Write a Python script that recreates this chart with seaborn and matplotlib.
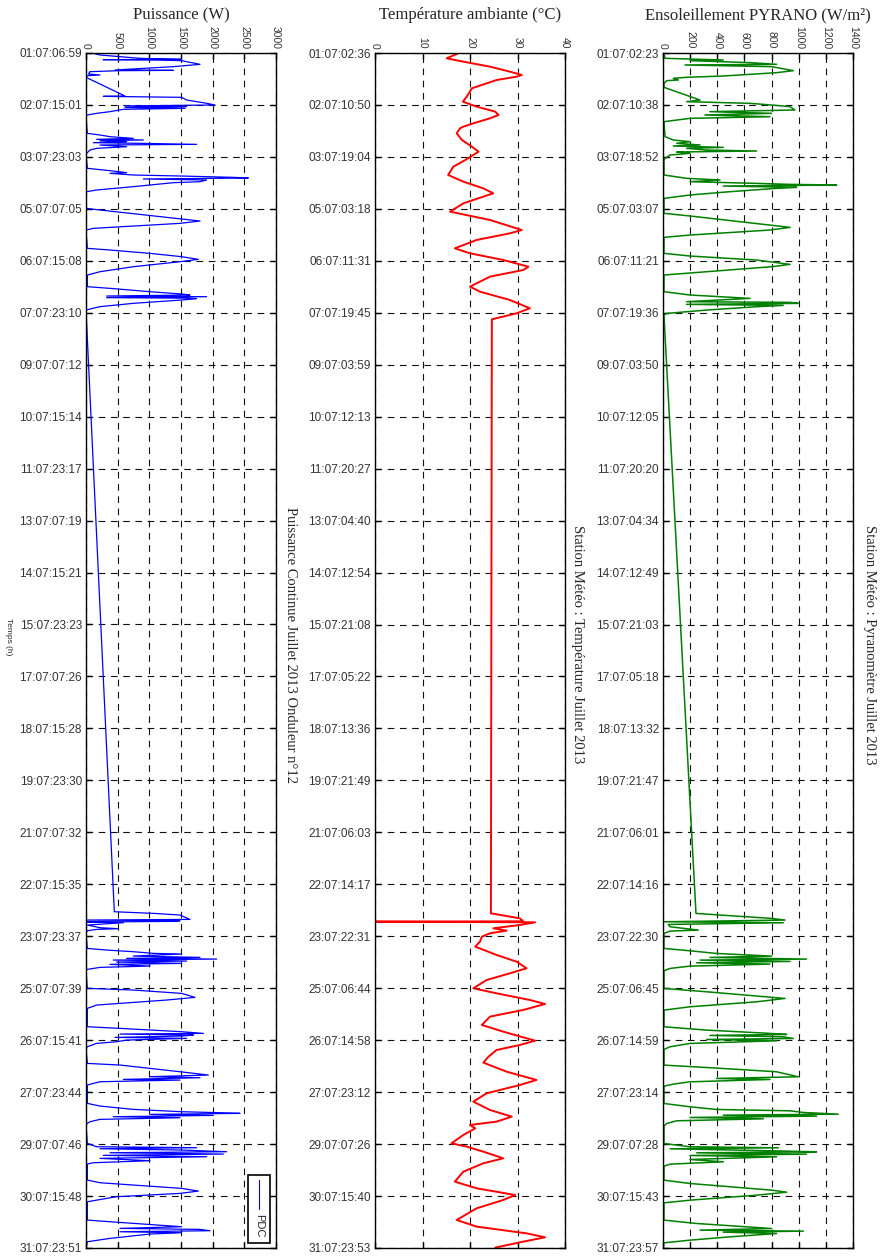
import numpy as np
import matplotlib
matplotlib.use("Agg")
import matplotlib.pyplot as plt
import matplotlib.patches as mpatches
import seaborn as sns

# Tick labels (jour:mois:heure:minute), one list per panel
pdc_ticks = ["01:07:06:59", "02:07:15:01", "03:07:23:03", "05:07:07:05", "06:07:15:08", "07:07:23:10",
             "09:07:07:12", "10:07:15:14", "11:07:23:17", "13:07:07:19", "14:07:15:21", "15:07:23:23",
             "17:07:07:26", "18:07:15:28", "19:07:23:30", "21:07:07:32", "22:07:15:35", "23:07:23:37",
             "25:07:07:39", "26:07:15:41", "27:07:23:44", "29:07:07:46", "30:07:15:48", "31:07:23:51"]
temp_ticks = ["01:07:02:36", "02:07:10:50", "03:07:19:04", "05:07:03:18", "06:07:11:31", "07:07:19:45",
              "09:07:03:59", "10:07:12:13", "11:07:20:27", "13:07:04:40", "14:07:12:54", "15:07:21:08",
              "17:07:05:22", "18:07:13:36", "19:07:21:49", "21:07:06:03", "22:07:14:17", "23:07:22:31",
              "25:07:06:44", "26:07:14:58", "27:07:23:12", "29:07:07:26", "30:07:15:40", "31:07:23:53"]
pyr_ticks = ["01:07:02:23", "02:07:10:38", "03:07:18:52", "05:07:03:07", "06:07:11:21", "07:07:19:36",
             "09:07:03:50", "10:07:12:05", "11:07:20:20", "13:07:04:34", "14:07:12:49", "15:07:21:03",
             "17:07:05:18", "18:07:13:32", "19:07:21:47", "21:07:06:01", "22:07:14:16", "23:07:22:30",
             "25:07:06:45", "26:07:14:59", "27:07:23:14", "29:07:07:28", "30:07:15:43", "31:07:23:57"]

# Puissance continue (day of July as decimal, W)
pdc_points = [
    (1.291, 90), (1.342, 220), (1.428, 850), (1.454, 1510), (1.462, 270), (1.471, 1100), (1.488, 1510),
    (1.582, 1800), (1.642, 1380), (1.728, 460), (1.737, 1380), (1.745, 520), (1.771, 60), (1.831, 40),
    (1.856, 220), (1.873, 30), (1.899, 0), (1.916, 0),
    (2.396, 616), (2.405, 273), (2.430, 1510), (2.499, 1590), (2.584, 1905), (2.627, 2037), (2.650, 616),
    (2.670, 1590), (2.690, 616), (2.713, 1563), (2.738, 590), (2.798, 379), (2.841, 168), (2.884, 21), (2.910, 0),
    (3.355, 21), (3.398, 221), (3.441, 379), (3.484, 747), (3.509, 168), (3.526, 905), (3.544, 221),
    (3.569, 642), (3.595, 116), (3.612, 852), (3.638, 1747), (3.655, 221), (3.698, 642), (3.741, 168),
    (3.784, 63), (3.852, 21), (3.886, 0),
    (4.254, 21), (4.314, 379), (4.366, 642), (4.383, 379), (4.426, 747), (4.451, 1484), (4.486, 2326),
    (4.503, 2563), (4.528, 905), (4.554, 1905), (4.597, 1800), (4.623, 1379), (4.725, 747), (4.811, 168),
    (4.854, 10), (4.880, 0),
    (5.282, 0), (5.325, 221), (5.608, 1800), (5.668, 1484), (5.796, 116), (5.839, 0),
    (6.310, 21), (6.353, 379), (6.439, 1010), (6.524, 1510), (6.593, 1774), (6.653, 1484), (6.782, 747),
    (6.910, 221), (6.996, 21),
    (7.295, 21), (7.338, 379), (7.424, 1010), (7.483, 1510), (7.509, 1642), (7.535, 326), (7.552, 1905),
    (7.577, 326), (7.590, 1600), (7.603, 1747), (7.637, 1510), (7.723, 747), (7.808, 221), (7.894, 0),
    (23.354, 447), (23.396, 1063), (23.439, 1484), (23.551, 1642), (23.568, 10), (23.585, 1484),
    (23.602, 1400), (23.619, 21), (23.636, 589), (23.696, 21), (23.765, 221), (23.790, 510), (23.808, 168),
    (23.842, 21), (23.910, 0),
    (24.296, 21), (24.339, 326), (24.381, 747), (24.424, 1063), (24.441, 1510), (24.493, 747), (24.527, 1800),
    (24.553, 642), (24.570, 2063), (24.596, 431), (24.621, 1589), (24.647, 484), (24.681, 1510),
    (24.707, 379), (24.750, 1010), (24.784, 221), (24.835, 21), (24.870, 0),
    (25.323, 21), (25.366, 747), (25.452, 1510), (25.555, 1721), (25.623, 1274), (25.752, 168), (25.837, 21),
    (26.308, 21), (26.351, 537), (26.437, 1510), (26.480, 1853), (26.497, 537), (26.523, 1695), (26.548, 1510),
    (26.583, 458), (26.608, 1589), (26.651, 642), (26.694, 484), (26.737, 168), (26.822, 21), (26.865, 0),
    (27.251, 21), (27.293, 537), (27.465, 1484), (27.550, 1932), (27.593, 1010), (27.619, 1800),
    (27.662, 589), (27.679, 1484), (27.722, 221), (27.764, 116), (27.807, 21),
    (28.278, 21), (28.347, 221), (28.432, 747), (28.492, 1510), (28.518, 2116), (28.535, 2432), (28.561, 1010),
    (28.587, 2010), (28.621, 431), (28.647, 1484), (28.689, 221), (28.749, 63), (28.792, 21), (28.835, 0),
    (29.306, 21), (29.392, 168), (29.417, 1747), (29.443, 221), (29.477, 1510), (29.520, 2221), (29.546, 379),
    (29.580, 2169), (29.614, 273), (29.649, 1905), (29.691, 221), (29.751, 1010), (29.803, 116), (29.837, 21),
    (30.248, 21), (30.317, 221), (30.462, 1510), (30.531, 1774), (30.591, 1484), (30.676, 484), (30.805, 21),
    (31.276, 21), (31.319, 379), (31.447, 1510), (31.490, 537), (31.516, 1800), (31.550, 1958), (31.576, 537),
    (31.601, 1510), (31.635, 1010), (31.747, 379), (31.833, 21), (31.987, 0),
]

# Temperature ambiante (day, degC)
temp_points = [
    (1.117, 17.5), (1.246, 15.1), (1.332, 18.6), (1.461, 24.2), (1.590, 28.4), (1.677, 30.9), (1.720, 29.8),
    (1.806, 25.6), (2.021, 20.4), (2.237, 19.3), (2.366, 18.5), (2.495, 21.4), (2.624, 25.3), (2.710, 26.0),
    (2.797, 24.2), (2.926, 20.7), (3.012, 18.6), (3.055, 17.9), (3.184, 17.2), (3.357, 18.3), (3.529, 20.4),
    (3.658, 21.8), (3.744, 20.7), (3.874, 19.0), (4.046, 16.5), (4.261, 15.4), (4.434, 18.6), (4.606, 22.8),
    (4.735, 24.9), (4.821, 22.8), (4.994, 18.6), (5.209, 15.8), (5.424, 24.2), (5.683, 30.9), (5.769, 28.4),
    (5.941, 21.4), (6.157, 16.8), (6.286, 20.0), (6.458, 27.0), (6.631, 32.3), (6.717, 31.2), (6.889, 24.2),
    (7.147, 20.0), (7.277, 22.1), (7.492, 28.4), (7.707, 32.6), (7.837, 29.8), (7.992, 24.6),
    (23.345, 24.4), (23.474, 30.5), (23.551, 31.2), (23.560, 0.0), (23.577, 33.7), (23.646, 30.5),
    (23.732, 24.9), (23.793, 27.7), (23.861, 24.2), (23.948, 22.5), (24.077, 22.1), (24.206, 21.1),
    (24.421, 25.6), (24.594, 29.8), (24.766, 31.9), (24.895, 28.4), (25.068, 23.5), (25.283, 20.7),
    (25.412, 25.6), (25.585, 32.6), (25.688, 35.8), (25.843, 31.2), (26.015, 24.2), (26.231, 22.5),
    (26.403, 27.0), (26.575, 31.9), (26.636, 33.7), (26.748, 30.5), (26.877, 25.6), (27.049, 23.9),
    (27.204, 22.8), (27.437, 27.7), (27.652, 34.0), (27.782, 30.5), (27.997, 23.5), (28.212, 20.7),
    (28.428, 24.2), (28.600, 28.8), (28.729, 25.6), (28.815, 20.0), (28.901, 21.1), (29.074, 18.6),
    (29.289, 16.1), (29.375, 19.3), (29.505, 22.8), (29.677, 27.0), (29.806, 22.8), (30.022, 18.6),
    (30.280, 16.8), (30.452, 21.4), (30.625, 29.5), (30.754, 27.0), (30.969, 21.4), (31.271, 17.2),
    (31.443, 21.4), (31.616, 31.9), (31.719, 35.8), (31.831, 31.2), (31.986, 25.3),
]

# Ensoleillement pyranometre (day, W/m2)
pyr_points = [
    (1.108, 7), (1.237, 15), (1.280, 444), (1.297, 199), (1.349, 641), (1.392, 837), (1.409, 162),
    (1.452, 800), (1.556, 960), (1.608, 837), (1.694, 444), (1.728, 174), (1.754, 76), (1.797, 113),
    (1.815, 27), (1.884, 7), (1.987, 7),
    (2.315, 273), (2.358, 174), (2.401, 641), (2.444, 800), (2.487, 936), (2.573, 972), (2.616, 346),
    (2.659, 800), (2.702, 309), (2.746, 788), (2.789, 199), (2.832, 101), (2.875, 7),
    (3.263, 15), (3.349, 76), (3.392, 199), (3.435, 101), (3.478, 273), (3.504, 76), (3.539, 444),
    (3.565, 174), (3.608, 322), (3.634, 690), (3.659, 101), (3.694, 199), (3.737, 52), (3.823, 15), (3.866, 7),
    (4.254, 7), (4.340, 174), (4.383, 420), (4.427, 199), (4.470, 690), (4.496, 936), (4.513, 1280),
    (4.539, 444), (4.573, 985), (4.599, 837), (4.685, 494), (4.771, 199), (4.858, 7),
    (5.245, 7), (5.314, 199), (5.608, 936), (5.677, 788), (5.806, 199), (5.866, 7),
    (6.280, 7), (6.349, 199), (6.453, 690), (6.565, 936), (6.625, 800), (6.754, 322), (6.840, 7),
    (7.271, 7), (7.357, 199), (7.444, 641), (7.530, 174), (7.547, 936), (7.573, 997), (7.599, 174),
    (7.625, 886), (7.659, 690), (7.746, 322), (7.832, 27), (7.875, 7),
    (23.347, 243), (23.476, 800), (23.519, 899), (23.563, 2), (23.588, 886), (23.632, 39), (23.692, 52),
    (23.778, 260), (23.804, 52), (23.864, 7),
    (24.252, 7), (24.313, 199), (24.382, 395), (24.451, 800), (24.485, 346), (24.528, 1058), (24.554, 273),
    (24.588, 936), (24.623, 248), (24.657, 788), (24.709, 199), (24.769, 52), (24.830, 7),
    (25.287, 7), (25.373, 322), (25.545, 899), (25.632, 690), (25.761, 199), (25.847, 7),
    (26.278, 7), (26.364, 322), (26.451, 800), (26.476, 911), (26.502, 346), (26.537, 886), (26.580, 960),
    (26.606, 322), (26.640, 837), (26.709, 199), (26.795, 52), (26.864, 7),
    (27.269, 7), (27.356, 444), (27.442, 837), (27.571, 997), (27.614, 395), (27.640, 788), (27.701, 199),
    (27.761, 76), (27.813, 7),
    (28.261, 7), (28.347, 199), (28.416, 395), (28.451, 936), (28.494, 1034), (28.537, 1292), (28.563, 444),
    (28.588, 1132), (28.623, 199), (28.657, 739), (28.709, 101), (28.778, 27), (28.847, 7),
    (29.295, 7), (29.381, 199), (29.407, 850), (29.433, 52), (29.485, 800), (29.511, 1132), (29.537, 248),
    (29.571, 1058), (29.606, 199), (29.640, 837), (29.709, 199), (29.769, 444), (29.830, 52), (29.881, 7),
    (30.244, 7), (30.330, 199), (30.502, 800), (30.554, 911), (30.632, 690), (30.761, 199), (30.830, 7),
    (31.278, 7), (31.364, 248), (31.494, 800), (31.537, 273), (31.562, 1034), (31.588, 444), (31.623, 837),
    (31.709, 494), (31.795, 199), (31.864, 7), (31.994, 0),
]

titles = ["Puissance (W)", "Température ambiante (°C)", "Ensoleillement PYRANO (W/m²)"]
side_titles = ["Puissance Continue Juillet 2013 Onduleur n°12",
               "Station Météo : Température Juillet 2013",
               "Station Météo : Pyranomètre Juillet 2013"]


def to_day(lbl):
    d, mo, h, m = [int(v) for v in lbl.split(":")]
    return d + h / 24 + m / 1440


sns.set_theme(style="white")
plt.rcParams["font.family"] = ["Liberation Sans", "DejaVu Sans"]
serif = ["Liberation Serif", "DejaVu Serif"]

fig = plt.figure(figsize=(8.93, 12.57), dpi=100)
W, H = 893, 1257
lefts = [86, 375, 663]
top, bottom, width = 53, 1248, 190

panels = [
    (pdc_points, pdc_ticks, 3000, 500, "#0000ff", 0.9, 1.074),
    (temp_points, temp_ticks, 40, 10, "#ff0000", 1.4, 1.068),
    (pyr_points, pyr_ticks, 1400, 200, "#008000", 1.1, 1.089),
]

axes = []
for i, (pts, ticks, xmax, xstep, col, lw, side_x) in enumerate(panels):
    ax = fig.add_axes([lefts[i] / W, (H - bottom) / H, width / W, (bottom - top) / H])
    days = [p[0] for p in pts]
    vals = [p[1] for p in pts]
    sns.lineplot(x=vals, y=days, sort=False, estimator=None, color=col, linewidth=lw,
                 ax=ax, legend=False)
    tpos = [to_day(t) for t in ticks]
    ax.set_ylim(tpos[-1], tpos[0])
    ax.set_xlim(0, xmax)
    ax.set_yticks(tpos)
    ax.set_yticklabels(ticks, fontsize=8.5, color="#333333")
    xt = np.arange(0, xmax + 1, xstep)
    ax.set_xticks(xt)
    ax.xaxis.tick_top()
    ax.set_xticklabels([str(v) for v in xt], rotation=-90, fontsize=7.5, color="#333333")
    ax.set_xlabel("")
    ax.set_ylabel("")
    ax.grid(True, color="#111111", linestyle=(0, (6, 5)), linewidth=0.8)
    ax.tick_params(direction="in", length=4, width=1, color="black",
                   top=True, bottom=True, left=True, right=True,
                   labeltop=True, labelbottom=False, pad=3)
    for s in ax.spines.values():
        s.set_color("black")
        s.set_linewidth(1.0)
    # panel title at a fixed height above the rotated tick labels
    ax.text(0.5, 1.0318, titles[i], transform=ax.transAxes, ha="center", va="center",
            fontsize=12, family=serif)
    ax.text(side_x, 0.505, side_titles[i], transform=ax.transAxes, rotation=-90,
            ha="center", va="center", fontsize=10.5, family=serif)
    axes.append(ax)

# legend box of the first panel
ax0 = axes[0]
ax0.add_patch(mpatches.Rectangle((0.853, 0.004), 0.115, 0.057, transform=ax0.transAxes,
                                 facecolor="white", edgecolor="black", linewidth=1.2, zorder=5))
ax0.plot([0.911, 0.911], [0.057, 0.033], transform=ax0.transAxes, color="#0000ff",
         linewidth=0.8, zorder=6)
ax0.text(0.911, 0.019, "PDC", transform=ax0.transAxes, rotation=-90, ha="center", va="center",
         fontsize=8, zorder=6)

fig.text(8 / W, 1 - 637 / H, "Temps (h)", rotation=-90, ha="center", va="center", fontsize=6)

fig.savefig("out.png", dpi=100)
